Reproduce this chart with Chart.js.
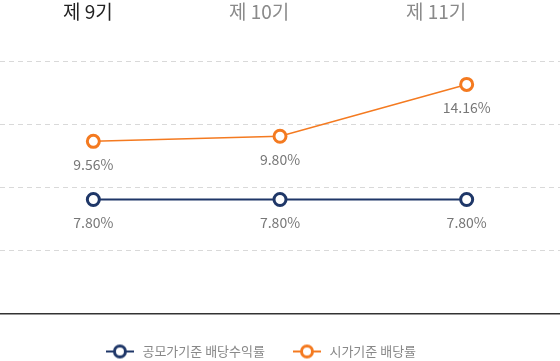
<!DOCTYPE html>
<html>
<head>
<meta charset="utf-8">
<script src="https://cdn.jsdelivr.net/npm/chart.js@4"></script>
<style>
    html, body { margin: 0; padding: 0; background: #fff; }
    #wrap { position: relative; width: 560px; height: 361px; }
    .aba { position: absolute; top: -2px; font-family: "Noto Sans CJK KR", "Noto Sans", sans-serif; font-size: 19px; line-height: 26px; color: #8a8a8a; white-space: nowrap; }
    .aba.ativo { color: #222; }
</style>
</head>
<body>
<div id="wrap">
    <div class="aba ativo" style="left:63px">제 9기</div>
    <div class="aba" style="left:229px">제 10기</div>
    <div class="aba" style="left:406px">제 11기</div>
    <canvas id="grafico" width="560" height="361"></canvas>
</div>
<script>
// periods (tabs above the chart)
const periodos = ['제 9기', '제 10기', '제 11기'];

// series names
const nomeSeries = ['공모가기준 배당수익률', '시가기준 배당률'];

// labels printed under each point
const textoOferta = ['7.80%', '7.80%', '7.80%'];
const textoMercado = ['9.56%', '9.80%', '14.16%'];

// plotted heights (grid step = 1)
const alturaOferta = [1.81, 1.81, 1.81];
const alturaMercado = [2.73, 2.81, 3.63];

const corAzul = '#1f3768';
const corLaranja = '#f47a20';

function iconeLegenda(cor) {
    const c = document.createElement('canvas');
    c.width = 28;
    c.height = 16;
    const g = c.getContext('2d');
    g.strokeStyle = cor;
    g.lineWidth = 2;
    g.beginPath();
    g.moveTo(0, 8);
    g.lineTo(28, 8);
    g.stroke();
    g.fillStyle = '#fff';
    g.lineWidth = 3;
    g.beginPath();
    g.arc(14, 8, 5.5, 0, Math.PI * 2);
    g.fill();
    g.stroke();
    return c;
}

const rotulos = {
    id: 'rotulos',
    afterDatasetsDraw(chart) {
        const ctx = chart.ctx;
        ctx.save();
        ctx.font = '14px "Noto Sans CJK KR", "Noto Sans", sans-serif';
        ctx.fillStyle = '#777';
        ctx.textAlign = 'center';
        ctx.textBaseline = 'middle';
        chart.data.datasets.forEach((ds, i) => {
            chart.getDatasetMeta(i).data.forEach((p, j) => {
                ctx.fillText(ds.textos[j], p.x, p.y + 23);
            });
        });
        ctx.restore();
    }
};

// legenda: altura fixa e deslocada um pouco pra esquerda
const ajusteLegenda = {
    id: 'ajusteLegenda',
    afterInit(chart) {
        const leg = chart.legend;
        if (!leg) return;
        const fitOriginal = leg.fit.bind(leg);
        leg.fit = function () {
            fitOriginal();
            this.height = 42;
        };
    },
    afterLayout(chart) {
        if (!chart.legend) return;
        chart.legend.left -= 20;
        chart.legend.right -= 20;
    }
};

const ctx = document.getElementById('grafico').getContext('2d');
new Chart(ctx, {
    type: 'line',
    data: {
        labels: periodos,
        datasets: [{
            label: nomeSeries[0],
            data: alturaOferta,
            textos: textoOferta,
            borderColor: corAzul,
            borderWidth: 2,
            pointRadius: 6,
            pointBorderWidth: 3,
            pointBackgroundColor: '#fff',
            pointBorderColor: corAzul,
            pointStyle: 'circle',
            legendIcon: iconeLegenda(corAzul)
        }, {
            label: nomeSeries[1],
            data: alturaMercado,
            textos: textoMercado,
            borderColor: corLaranja,
            borderWidth: 1.5,
            pointRadius: 6,
            pointBorderWidth: 3,
            pointBackgroundColor: '#fff',
            pointBorderColor: corLaranja,
            pointStyle: 'circle',
            legendIcon: iconeLegenda(corLaranja)
        }]
    },
    options: {
        responsive: false,
        animation: false,
        layout: { autoPadding: false, padding: { top: 61, left: 0, right: 0, bottom: 0 } },
        scales: {
            x: {
                offset: true,
                grid: { display: false },
                ticks: { display: false },
                border: { display: true, color: '#333', width: 1.5 },
                afterFit: s => { s.height = 5; }
            },
            y: {
                min: 0,
                max: 4,
                ticks: { display: false, stepSize: 1 },
                grid: { color: ctx => ctx.tick.value === 0 ? 'rgba(0,0,0,0)' : '#d9d9d9', drawTicks: false },
                border: { display: false, dash: [5, 4] },
                afterFit: s => { s.width = 0; }
            }
        },
        plugins: {
            tooltip: { enabled: false },
            legend: {
                position: 'bottom',
                labels: {
                    usePointStyle: true,
                    pointStyleWidth: 32,
                    padding: 26,
                    color: '#888',
                    font: { family: '"Noto Sans CJK KR", "Noto Sans", sans-serif', size: 13 },
                    generateLabels: chart => chart.data.datasets.map((ds, i) => ({
                        text: ds.label,
                        fontColor: '#888',
                        pointStyle: ds.legendIcon,
                        datasetIndex: i,
                        lineWidth: 0,
                        hidden: false
                    }))
                }
            }
        }
    },
    plugins: [rotulos, ajusteLegenda]
});
</script>
</body>
</html>
